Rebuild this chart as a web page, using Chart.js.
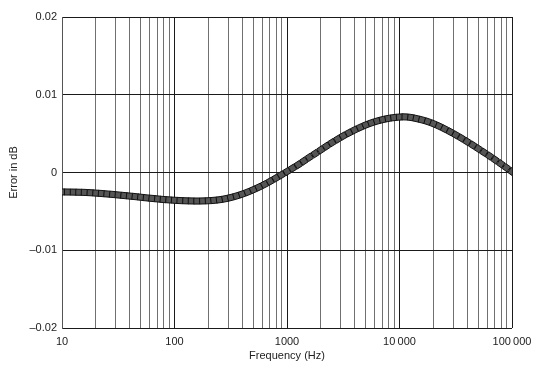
<!DOCTYPE html>
<html>
<head>
<meta charset="utf-8">
<script src="https://cdn.jsdelivr.net/npm/chart.js@4.4.1/dist/chart.umd.min.js"></script>
<style>
  html, body { margin: 0; padding: 0; background: #fff; }
  #wrap { width: 541px; height: 377px; }
</style>
</head>
<body>
<div id="wrap"><canvas id="errChart" width="541" height="377"></canvas></div>
<script>
// ------------------------------------------------------------
// DATA
// ------------------------------------------------------------
const frequencies = [
  10, 11.2, 12.6, 14.1, 15.8, 17.8, 20, 22.4, 25.1, 28.2, 31.6, 35.5, 39.8, 44.7, 50.1, 56.2, 63.1, 70.8, 79.4, 89.1,
  100, 112, 126, 141, 158, 178, 200, 224, 251, 282, 316, 355, 398, 447, 501, 562, 631, 708, 794, 891,
  1000, 1120, 1260, 1410, 1580, 1780, 2000, 2240, 2510, 2820, 3160, 3550, 3980, 4470, 5010, 5620, 6310, 7080, 7940, 8910,
  10000, 11200, 12600, 14100, 15800, 17800, 20000, 22400, 25100, 28200, 31600, 35500, 39800, 44700, 50100, 56200, 63100, 70800, 79400, 89100,
  100000
];

const errorDb = [
  -0.00250, -0.00251, -0.00252, -0.00254, -0.00256, -0.00260, -0.00265, -0.00270, -0.00276, -0.00282,
  -0.00289, -0.00296, -0.00303, -0.00310, -0.00318, -0.00326, -0.00333, -0.00340, -0.00347, -0.00352,
  -0.00357, -0.00361, -0.00364, -0.00366, -0.00367, -0.00366, -0.00363, -0.00358, -0.00350, -0.00338,
  -0.00322, -0.00302, -0.00279, -0.00252, -0.00222, -0.00189, -0.00153, -0.00114, -0.00073, -0.00031,
  0.00012, 0.00055, 0.00100, 0.00147, 0.00195, 0.00243, 0.00291, 0.00338, 0.00384, 0.00428,
  0.00470, 0.00509, 0.00546, 0.00580, 0.00611, 0.00638, 0.00661, 0.00680, 0.00695, 0.00706,
  0.00713, 0.00715, 0.00708, 0.00694, 0.00677, 0.00655, 0.00628, 0.00597, 0.00562, 0.00524,
  0.00484, 0.00442, 0.00398, 0.00353, 0.00307, 0.00260, 0.00212, 0.00163, 0.00113, 0.00062,
  0.00010
];

const xTickLabels = { 10: '10', 100: '100', 1000: '1000', 10000: '10\u2009000', 100000: '100\u2009000' };
const yTickValues = [-0.02, -0.01, 0, 0.01, 0.02];
const yTickLabels = ['\u20130.02', '\u20130.01', '0', '0.01', '0.02'];

// ------------------------------------------------------------
// CHART
// ------------------------------------------------------------
const points = frequencies.map((f, i) => ({ x: f, y: errorDb[i] }));

function isDecade(v) {
  const l = Math.log10(v);
  return Math.abs(l - Math.round(l)) < 1e-9;
}

// square markers turned along the curve
function markerRotation(ctx) {
  const chart = ctx.chart;
  const xs = chart.scales.x, ys = chart.scales.y;
  if (!xs || !ys) return 0;
  const d = ctx.dataset.data;
  const i = ctx.dataIndex;
  const a = d[Math.max(i - 1, 0)], b = d[Math.min(i + 1, d.length - 1)];
  const dx = xs.getPixelForValue(b.x) - xs.getPixelForValue(a.x);
  const dy = ys.getPixelForValue(b.y) - ys.getPixelForValue(a.y);
  return Math.atan2(dy, dx) * 180 / Math.PI;
}

Chart.defaults.font.family = '"Liberation Sans", Arial, sans-serif';
Chart.defaults.font.size = 11;
Chart.defaults.color = '#222';

new Chart(document.getElementById('errChart'), {
  type: 'line',
  data: {
    datasets: [{
      data: points,
      borderColor: '#111',
      borderWidth: 1,
      backgroundColor: '#555',
      pointStyle: 'rect',
      pointRadius: 4.3,
      pointBorderWidth: 1,
      pointBorderColor: '#111',
      pointBackgroundColor: '#555',
      pointRotation: markerRotation,
      tension: 0,
      fill: false
    }]
  },
  options: {
    responsive: false,
    animation: false,
    events: [],
    layout: { padding: { top: 17, right: 29, left: 7, bottom: 14 } },
    plugins: { legend: { display: false }, tooltip: { enabled: false } },
    scales: {
      x: {
        type: 'logarithmic',
        min: 10,
        max: 100000,
        afterBuildTicks: function(scale) {
          const ticks = [];
          for (let p = 10; p < 100000; p *= 10) {
            for (let m = 1; m < 10; m++) ticks.push({ value: m * p });
          }
          ticks.push({ value: 100000 });
          scale.ticks = ticks;
        },
        afterFit: function(scale) { scale.height = 35; },
        ticks: {
          autoSkip: false,
          maxRotation: 0,
          padding: 7,
          color: '#222',
          callback: function(value) {
            return isDecade(value) ? xTickLabels[Math.round(value)] : '';
          }
        },
        grid: {
          drawTicks: false,
          lineWidth: 1,
          color: function(ctx) {
            return ctx.tick && isDecade(ctx.tick.value) ? '#1a1a1a' : '#707070';
          }
        },
        border: { display: false },
        title: {
          display: true,
          text: 'Frequency (Hz)',
          color: '#222',
          font: { size: 11 },
          padding: { top: 0, bottom: 0 }
        }
      },
      y: {
        min: -0.02,
        max: 0.02,
        afterBuildTicks: function(scale) {
          scale.ticks = yTickValues.map(v => ({ value: v }));
        },
        afterFit: function(scale) { scale.width = 55; },
        ticks: {
          padding: 5,
          color: '#222',
          callback: function(value) {
            const i = yTickValues.findIndex(v => Math.abs(v - value) < 1e-9);
            return i >= 0 ? yTickLabels[i] : '';
          }
        },
        grid: {
          drawTicks: false,
          lineWidth: 1,
          color: '#1a1a1a'
        },
        border: { display: true, color: '#555' },
        title: {
          display: true,
          text: 'Error in dB',
          color: '#222',
          font: { size: 11 },
          padding: { top: 0, bottom: 0 }
        }
      }
    }
  }
});
</script>
</body>
</html>
